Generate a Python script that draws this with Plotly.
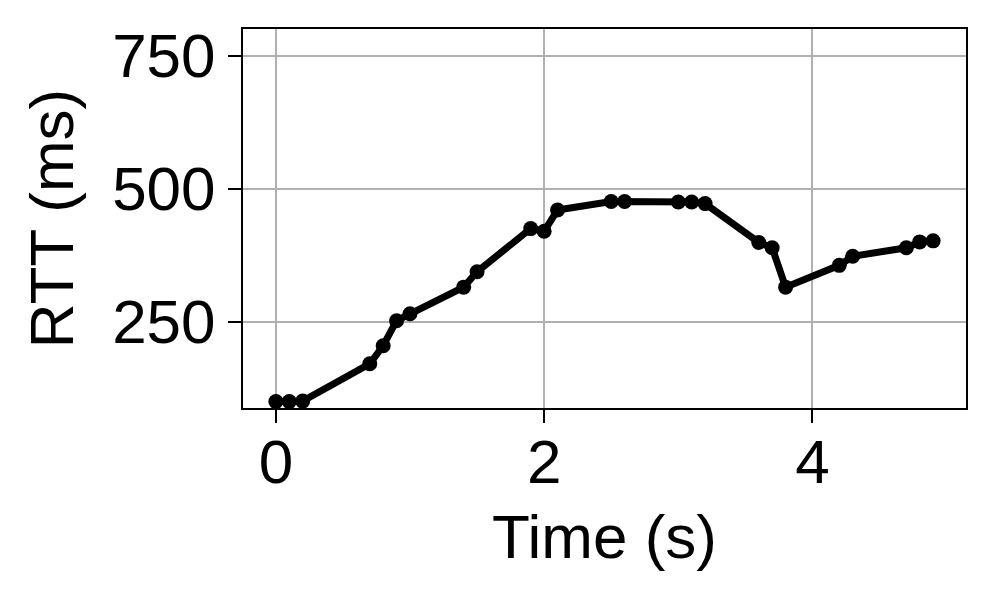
import plotly.graph_objects as go

time_s = [0.0, 0.1, 0.2, 0.7, 0.8, 0.9, 1.0, 1.4, 1.5, 1.9, 2.0, 2.1, 2.5, 2.6,
          3.0, 3.1, 3.2, 3.6, 3.7, 3.8, 4.2, 4.3, 4.7, 4.8, 4.9]
rtt_ms = [100, 100, 101, 171, 205, 252, 265, 315, 344, 425, 420, 460, 476, 476,
          475, 475, 472, 399, 389, 315, 356, 373, 389, 400, 402]
x_ticks = [0, 2, 4]
y_ticks = [250, 500, 750]

FONT = "Liberation Sans, Arial, Helvetica, sans-serif"

fig = go.Figure()
fig.add_trace(go.Scatter(
    x=time_s, y=rtt_ms, mode="lines+markers",
    line=dict(color="black", width=7),
    marker=dict(color="black", size=15),
    showlegend=False,
))

axis_common = dict(
    showline=True, linecolor="black", linewidth=2, mirror=True,
    ticks="outside", ticklen=13, tickwidth=2, tickcolor="black",
    showgrid=True, gridcolor="#b0b0b0", gridwidth=1.5,
    zeroline=False,
    tickfont=dict(family=FONT, size=62, color="black"),
)

fig.update_layout(
    width=996, height=604,
    margin=dict(l=235, r=38, t=21, b=204),
    paper_bgcolor="white", plot_bgcolor="white",
    font=dict(family=FONT, color="black"),
    xaxis=dict(
        range=[-0.245, 5.145], tickvals=x_ticks, ticklabelstandoff=-14,
        title=dict(text="Time (s)", font=dict(family=FONT, size=62, color="black"), standoff=19),
        **axis_common,
    ),
    yaxis=dict(
        range=[88, 800], tickvals=y_ticks,
        title=dict(text="RTT (ms)", font=dict(family=FONT, size=62, color="black"), standoff=18),
        **axis_common,
    ),
)

fig.write_html("out.html")
